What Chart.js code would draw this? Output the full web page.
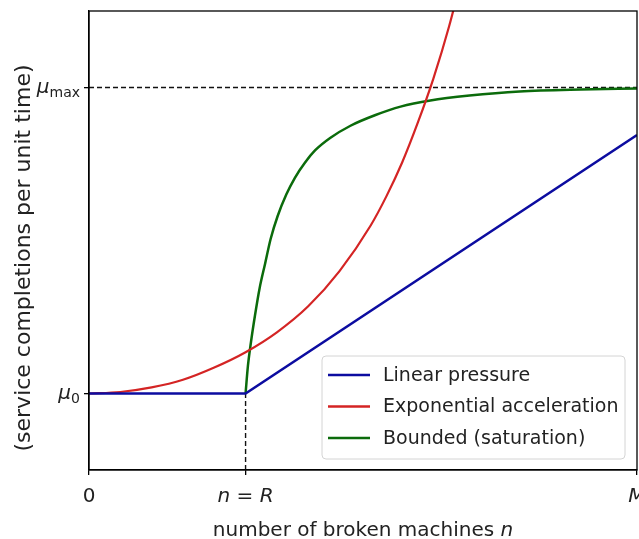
<!DOCTYPE html>
<html>
<head>
<meta charset="utf-8">
<script src="https://cdn.jsdelivr.net/npm/chart.js@4.4.0/dist/chart.umd.min.js"></script>
<style>
  html, body { margin: 0; padding: 0; background: #fff; }
</style>
</head>
<body>
<canvas id="chart" width="639" height="539"></canvas>
<script>
// Service rate vs number of broken machines – three shapes of mu(n)

// Axis landmarks
const nR = 10;        // n = R
const nM = 35;        // M
const mu0 = 1;        // mu_0
const muMax = 3;      // mu_max
const yMin = 0.5, yMax = 3.5;

// Linear pressure
const linearN  = [0, 10, 35];
const linearMu = [1, 1, 2.69];

// Exponential acceleration
const expN  = [0, 2, 4, 6, 8, 10, 12, 14, 16, 18, 19, 20, 21, 22, 23, 24];
const expMu = [1.00, 1.01, 1.04, 1.09, 1.17, 1.27, 1.40, 1.57, 1.80, 2.10, 2.29, 2.51, 2.77, 3.06, 3.40, 3.80];

// Bounded (saturation)
const satN  = [10, 10.15, 10.35, 10.6, 10.9, 11.25, 11.6, 12.05, 12.6, 13.15, 13.8, 14.45, 15.4, 16.7, 18.3, 19.9, 21.8, 24.3, 27.5, 31.4, 35];
const satMu = [1.00, 1.18, 1.34, 1.51, 1.69, 1.85, 2.01, 2.16, 2.30, 2.41, 2.51, 2.59, 2.67, 2.75, 2.82, 2.875, 2.915, 2.947, 2.974, 2.987, 2.993];

const seriesNames = ['Linear pressure', 'Exponential acceleration', 'Bounded (saturation)'];
const seriesColors = ['#0c0ca0', '#d42424', '#0b6b0b'];

const FONT = '"DejaVu Sans", sans-serif';
const toPts = (xs, ys) => xs.map((x, i) => ({ x: x, y: ys[i] }));

// Draw a run of text pieces: [text, font, dy]
function drawParts(ctx, parts, x, y, align) {
    let total = 0;
    parts.forEach(p => { ctx.font = p[1]; total += ctx.measureText(p[0]).width; });
    let cx = align === 'center' ? x - total / 2 : (align === 'right' ? x - total : x);
    parts.forEach(p => {
        ctx.font = p[1];
        ctx.fillText(p[0], cx, y + (p[2] || 0));
        cx += ctx.measureText(p[0]).width;
    });
}

const decor = {
    id: 'decor',
    afterDatasetsDraw(chart) {
        const { ctx, chartArea: a } = chart;
        ctx.save();

        // frame (top / right spines as well)
        ctx.strokeStyle = '#000';
        ctx.lineWidth = 1.3;
        ctx.strokeRect(a.left, a.top, a.right - a.left, a.bottom - a.top);

        // legend box
        const bx = 322, by = 356, bw = 303, bh = 103;
        ctx.beginPath();
        ctx.roundRect(bx, by, bw, bh, 4);
        ctx.fillStyle = 'rgba(255,255,255,0.85)';
        ctx.fill();
        ctx.strokeStyle = '#d4d4d4';
        ctx.lineWidth = 1;
        ctx.stroke();
        ctx.textBaseline = 'middle';
        ctx.textAlign = 'left';
        seriesNames.forEach((name, i) => {
            const ry = 375 + i * 31.5;
            ctx.strokeStyle = seriesColors[i];
            ctx.lineWidth = 2.5;
            ctx.beginPath();
            ctx.moveTo(328, ry);
            ctx.lineTo(370, ry);
            ctx.stroke();
            ctx.fillStyle = '#222';
            ctx.font = '19px ' + FONT;
            ctx.fillText(name, 383, ry + 1);
        });
        ctx.restore();
    },
    afterDraw(chart) {
        const { ctx, chartArea: a, scales: { x, y } } = chart;
        ctx.save();
        ctx.fillStyle = '#222';
        ctx.textBaseline = 'alphabetic';
        const it = 'italic 20px ' + FONT, rg = '20px ' + FONT, sub = '14px ' + FONT;

        // x tick labels
        drawParts(ctx, [['0', rg]], x.getPixelForValue(0), 502, 'center');
        drawParts(ctx, [['n', it], [' = ', rg], ['R', it]], x.getPixelForValue(nR), 502, 'center');
        drawParts(ctx, [['M', it]], x.getPixelForValue(nM), 502, 'center');

        // y tick labels
        drawParts(ctx, [['\u03bc', it], ['max', sub, 4]], 80, y.getPixelForValue(muMax) + 5, 'right');
        drawParts(ctx, [['\u03bc', it], ['0', sub, 4]], 80, y.getPixelForValue(mu0) + 5, 'right');

        // axis titles
        drawParts(ctx, [['number of broken machines ', rg], ['n', it]], (a.left + a.right) / 2, 536, 'center');
        ctx.translate(30, 258);
        ctx.rotate(-Math.PI / 2);
        drawParts(ctx, [['(service completions per unit time)', '22px ' + FONT]], 0, 0, 'center');
        ctx.restore();
    }
};

new Chart(document.getElementById('chart').getContext('2d'), {
    type: 'line',
    data: {
        datasets: [
            { label: seriesNames[0], data: toPts(linearN, linearMu), borderColor: seriesColors[0], borderWidth: 2.5, tension: 0 },
            { label: seriesNames[1], data: toPts(expN, expMu), borderColor: seriesColors[1], borderWidth: 2.2, cubicInterpolationMode: 'monotone' },
            { label: seriesNames[2], data: toPts(satN, satMu), borderColor: seriesColors[2], borderWidth: 2.5, cubicInterpolationMode: 'monotone' },
            // reference lines
            { label: 'mu_max', data: toPts([0, nM], [muMax, muMax]), borderColor: '#111', borderWidth: 1.4, borderDash: [5, 3] },
            { label: 'R', data: toPts([nR, nR], [yMin, mu0]), borderColor: '#111', borderWidth: 1.4, borderDash: [5, 3] }
        ]
    },
    options: {
        responsive: false,
        animation: false,
        layout: { padding: { top: 11, right: 2, left: 0, bottom: 0 } },
        elements: { point: { radius: 0 } },
        plugins: { legend: { display: false }, tooltip: { enabled: false } },
        scales: {
            x: {
                type: 'linear', min: 0, max: nM,
                afterBuildTicks: s => { s.ticks = [0, nR, nM].map(v => ({ value: v })); },
                afterFit: s => { s.height = 69; },
                ticks: { display: false },
                grid: { drawOnChartArea: false, drawTicks: true, tickLength: 5, color: '#000', lineWidth: 1.3 },
                border: { color: '#000', width: 1.3 }
            },
            y: {
                type: 'linear', min: yMin, max: yMax,
                afterBuildTicks: s => { s.ticks = [mu0, muMax].map(v => ({ value: v })); },
                afterFit: s => { s.width = 89; },
                ticks: { display: false },
                grid: { drawOnChartArea: false, drawTicks: true, tickLength: 5, color: '#000', lineWidth: 1.3 },
                border: { color: '#000', width: 1.3 }
            }
        }
    },
    plugins: [decor]
});
</script>
</body>
</html>
